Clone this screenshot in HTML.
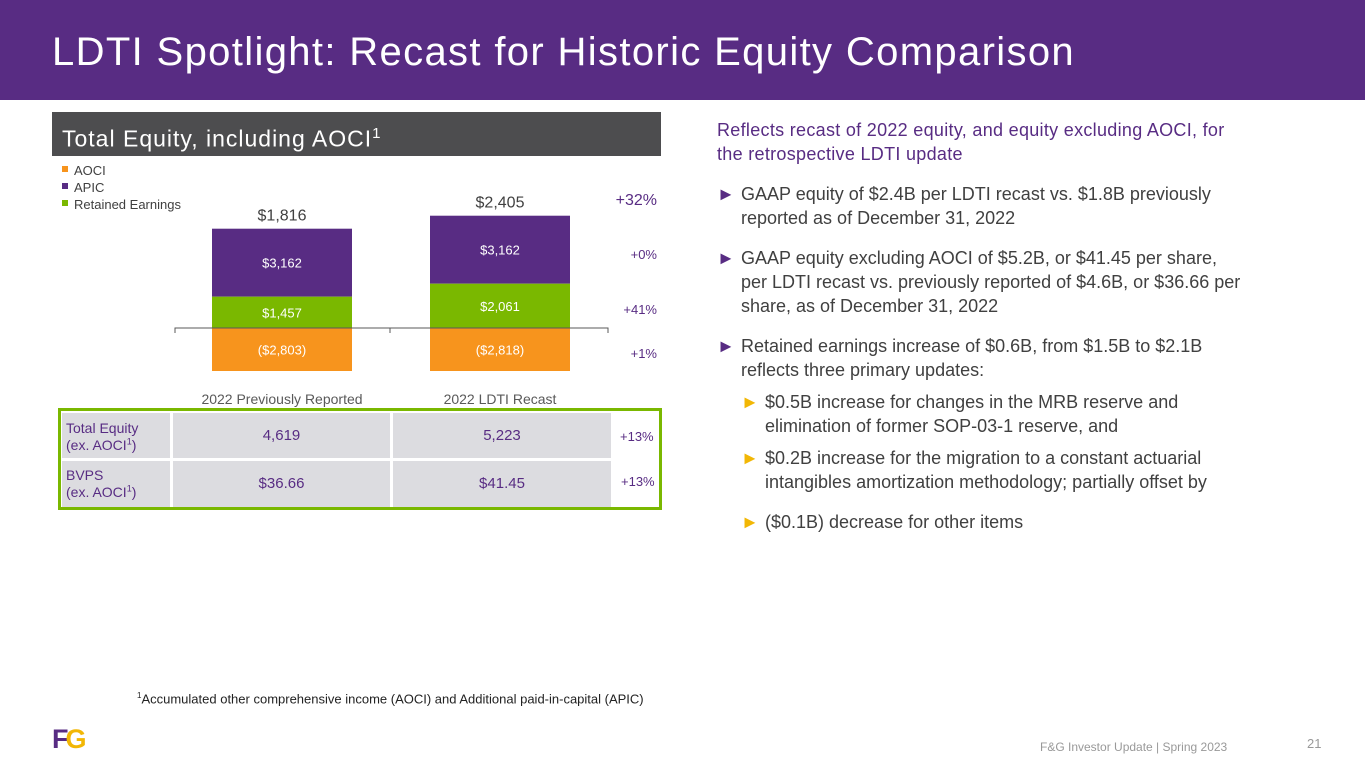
<!DOCTYPE html>
<html><head><meta charset="utf-8"><style>
body{margin:0;width:1365px;height:768px;position:relative;background:#fff;font-family:"Liberation Sans",sans-serif;overflow:hidden}
.a{position:absolute;white-space:nowrap}
.hdr{left:0;top:0;width:1365px;height:100px;background:#582c83}
.t{left:52px;top:30px;font-size:40px;color:#fff;letter-spacing:1.35px}
.sub{left:52px;top:112px;width:609px;height:44px;background:#4d4d4f;color:#fff;font-size:23px;line-height:44px;padding-left:10px;box-sizing:border-box;letter-spacing:1px}
.rt{left:717px;font-size:18px;color:#404040;line-height:24px}
.rt b{color:#582c83;font-weight:normal;position:absolute;left:-24px}
.rt2 b{color:#f2b705}
.cell{position:absolute;background:#dcdce0;color:#582c83;font-size:15px}
</style></head><body>
<div class="a hdr"></div>
<div class="a t">LDTI Spotlight: Recast for Historic Equity Comparison</div>
<div class="a sub">Total Equity, including AOCI<sup style="font-size:15px">1</sup></div>

<svg class="a" style="left:0;top:0" width="700" height="420" id="chart"></svg>

<div class="a" style="left:58px;top:408px;width:604px;height:102px;border:3px solid #7ab800;box-sizing:border-box"></div>
<div class="cell" style="left:62px;top:413px;width:108px;height:45px;line-height:17px;padding:7px 0 0 4px;box-sizing:border-box;font-size:14px">Total Equity<br>(ex. AOCI<sup style="font-size:9px;line-height:0">1</sup>)</div>
<div class="cell" style="left:173px;top:413px;width:217px;height:45px;line-height:45px;text-align:center">4,619</div>
<div class="cell" style="left:393px;top:413px;width:218px;height:45px;line-height:45px;text-align:center">5,223</div>
<div class="cell" style="left:62px;top:461px;width:108px;height:46px;line-height:17px;padding:6px 0 0 4px;box-sizing:border-box;font-size:14px">BVPS<br>(ex. AOCI<sup style="font-size:9px;line-height:0">1</sup>)</div>
<div class="cell" style="left:173px;top:461px;width:217px;height:46px;line-height:46px;text-align:center">$36.66</div>
<div class="cell" style="left:393px;top:461px;width:218px;height:46px;line-height:46px;text-align:center">$41.45</div>
<div class="a" style="left:620px;top:429px;font-size:13px;color:#582c83">+13%</div>
<div class="a" style="left:621px;top:474px;font-size:13px;color:#582c83">+13%</div>

<div class="a rt" style="top:118px;color:#582c83;letter-spacing:.3px">Reflects recast of 2022 equity, and equity excluding AOCI, for<br>the retrospective LDTI update</div>
<div class="a rt" style="top:182px;left:741px"><b>►</b>GAAP equity of $2.4B per LDTI recast vs. $1.8B previously<br>reported as of December 31, 2022</div>
<div class="a rt" style="top:246px;left:741px"><b>►</b>GAAP equity excluding AOCI of $5.2B, or $41.45 per share,<br>per LDTI recast vs. previously reported of $4.6B, or $36.66 per<br>share, as of December 31, 2022</div>
<div class="a rt" style="top:334px;left:741px"><b>►</b>Retained earnings increase of $0.6B, from $1.5B to $2.1B<br>reflects three primary updates:</div>
<div class="a rt rt2" style="top:390px;left:765px"><b>►</b>$0.5B increase for changes in the MRB reserve and<br>elimination of former SOP-03-1 reserve, and</div>
<div class="a rt rt2" style="top:446px;left:765px"><b>►</b>$0.2B increase for the migration to a constant actuarial<br>intangibles amortization methodology; partially offset by</div>
<div class="a rt rt2" style="top:510px;left:765px"><b>►</b>($0.1B) decrease for other items</div>

<div class="a" style="left:137px;top:691px;font-size:13px;color:#222"><sup style="font-size:8px">1</sup>Accumulated other comprehensive income (AOCI) and Additional paid-in-capital (APIC)</div>
<div class="a" style="left:52px;top:724px;font-size:27px;font-weight:bold;letter-spacing:-3px"><span style="color:#582c83">F</span><span style="color:#f2b705">G</span></div>
<div class="a" style="left:1040px;top:740px;font-size:12px;color:#999">F&amp;G Investor Update | Spring 2023</div>
<div class="a" style="left:1307px;top:736px;font-size:13px;color:#999">21</div>

<script>
const categories=["2022 Previously Reported","2022 LDTI Recast"];
const apic=[3162,3162];
const retained=[1457,2061];
const aoci=[-2803,-2818];
const totals=["$1,816","$2,405"];
const changeLabels=["+32%","+0%","+41%","+1%"];
const svg=document.getElementById('chart');
const NS='http://www.w3.org/2000/svg';
const zeroY=328, k=0.0215, bottomY=371;
const y=v=>zeroY-v*k;
const barX=i=>212+i*218, barW=140;
function el(t,a,txt){const e=document.createElementNS(NS,t);for(const p in a)e.setAttribute(p,a[p]);if(txt!==undefined)e.textContent=txt;svg.appendChild(e);return e;}
function fmt(v){const s='$'+Math.abs(v).toLocaleString('en-US');return v<0?'('+s+')':s;}
[["AOCI","#f7941d"],["APIC","#582c83"],["Retained Earnings","#7ab800"]].forEach((l,i)=>{
 const r=el('rect',{x:62,y:166+i*17,width:6,height:6,fill:l[1]});
 
 const t=el('text',{x:74,y:175+i*17,'font-size':13,fill:'#404040'},l[0]);
 
});
categories.forEach((c,i)=>{
 const x=barX(i);
 const reTop=y(retained[i]), apTop=y(retained[i]+apic[i]);
 const a=el('rect',{x:x,y:apTop,width:barW,height:reTop-apTop,fill:'#582c83'});
 
 const r=el('rect',{x:x,y:reTop,width:barW,height:zeroY-reTop,fill:'#7ab800'});
 
 const ob=Math.min(y(aoci[i]),bottomY);
 const o=el('rect',{x:x,y:zeroY,width:barW,height:ob-zeroY,fill:'#f7941d'});
 
 const cx=x+barW/2;
 el('text',{x:cx,y:(apTop+reTop)/2+5,'font-size':13,fill:'#fff','text-anchor':'middle'},fmt(apic[i]));
 el('text',{x:cx,y:(reTop+zeroY)/2+5,'font-size':13,fill:'#fff','text-anchor':'middle'},fmt(retained[i]));
 el('text',{x:cx,y:(zeroY+ob)/2+5,'font-size':13,fill:'#fff','text-anchor':'middle'},fmt(aoci[i]));
 const tt=el('text',{x:cx,y:apTop-8,'font-size':16,fill:'#404040','text-anchor':'middle'},totals[i]);
 
 const cl=el('text',{x:cx,y:404,'font-size':14,fill:'#595959','text-anchor':'middle'},c);
 
});
const ax=el('path',{d:`M175,${zeroY+5}V${zeroY}H608V${zeroY+5}M390,${zeroY}V${zeroY+5}`,stroke:'#595959',fill:'none','stroke-width':1});

const cy=[205,259,314,358];
changeLabels.forEach((l,i)=>{
 const t=el('text',{x:657,y:cy[i],'font-size':i==0?16:13,fill:'#582c83','text-anchor':'end'},l);
 
});
</script>
</body></html>
